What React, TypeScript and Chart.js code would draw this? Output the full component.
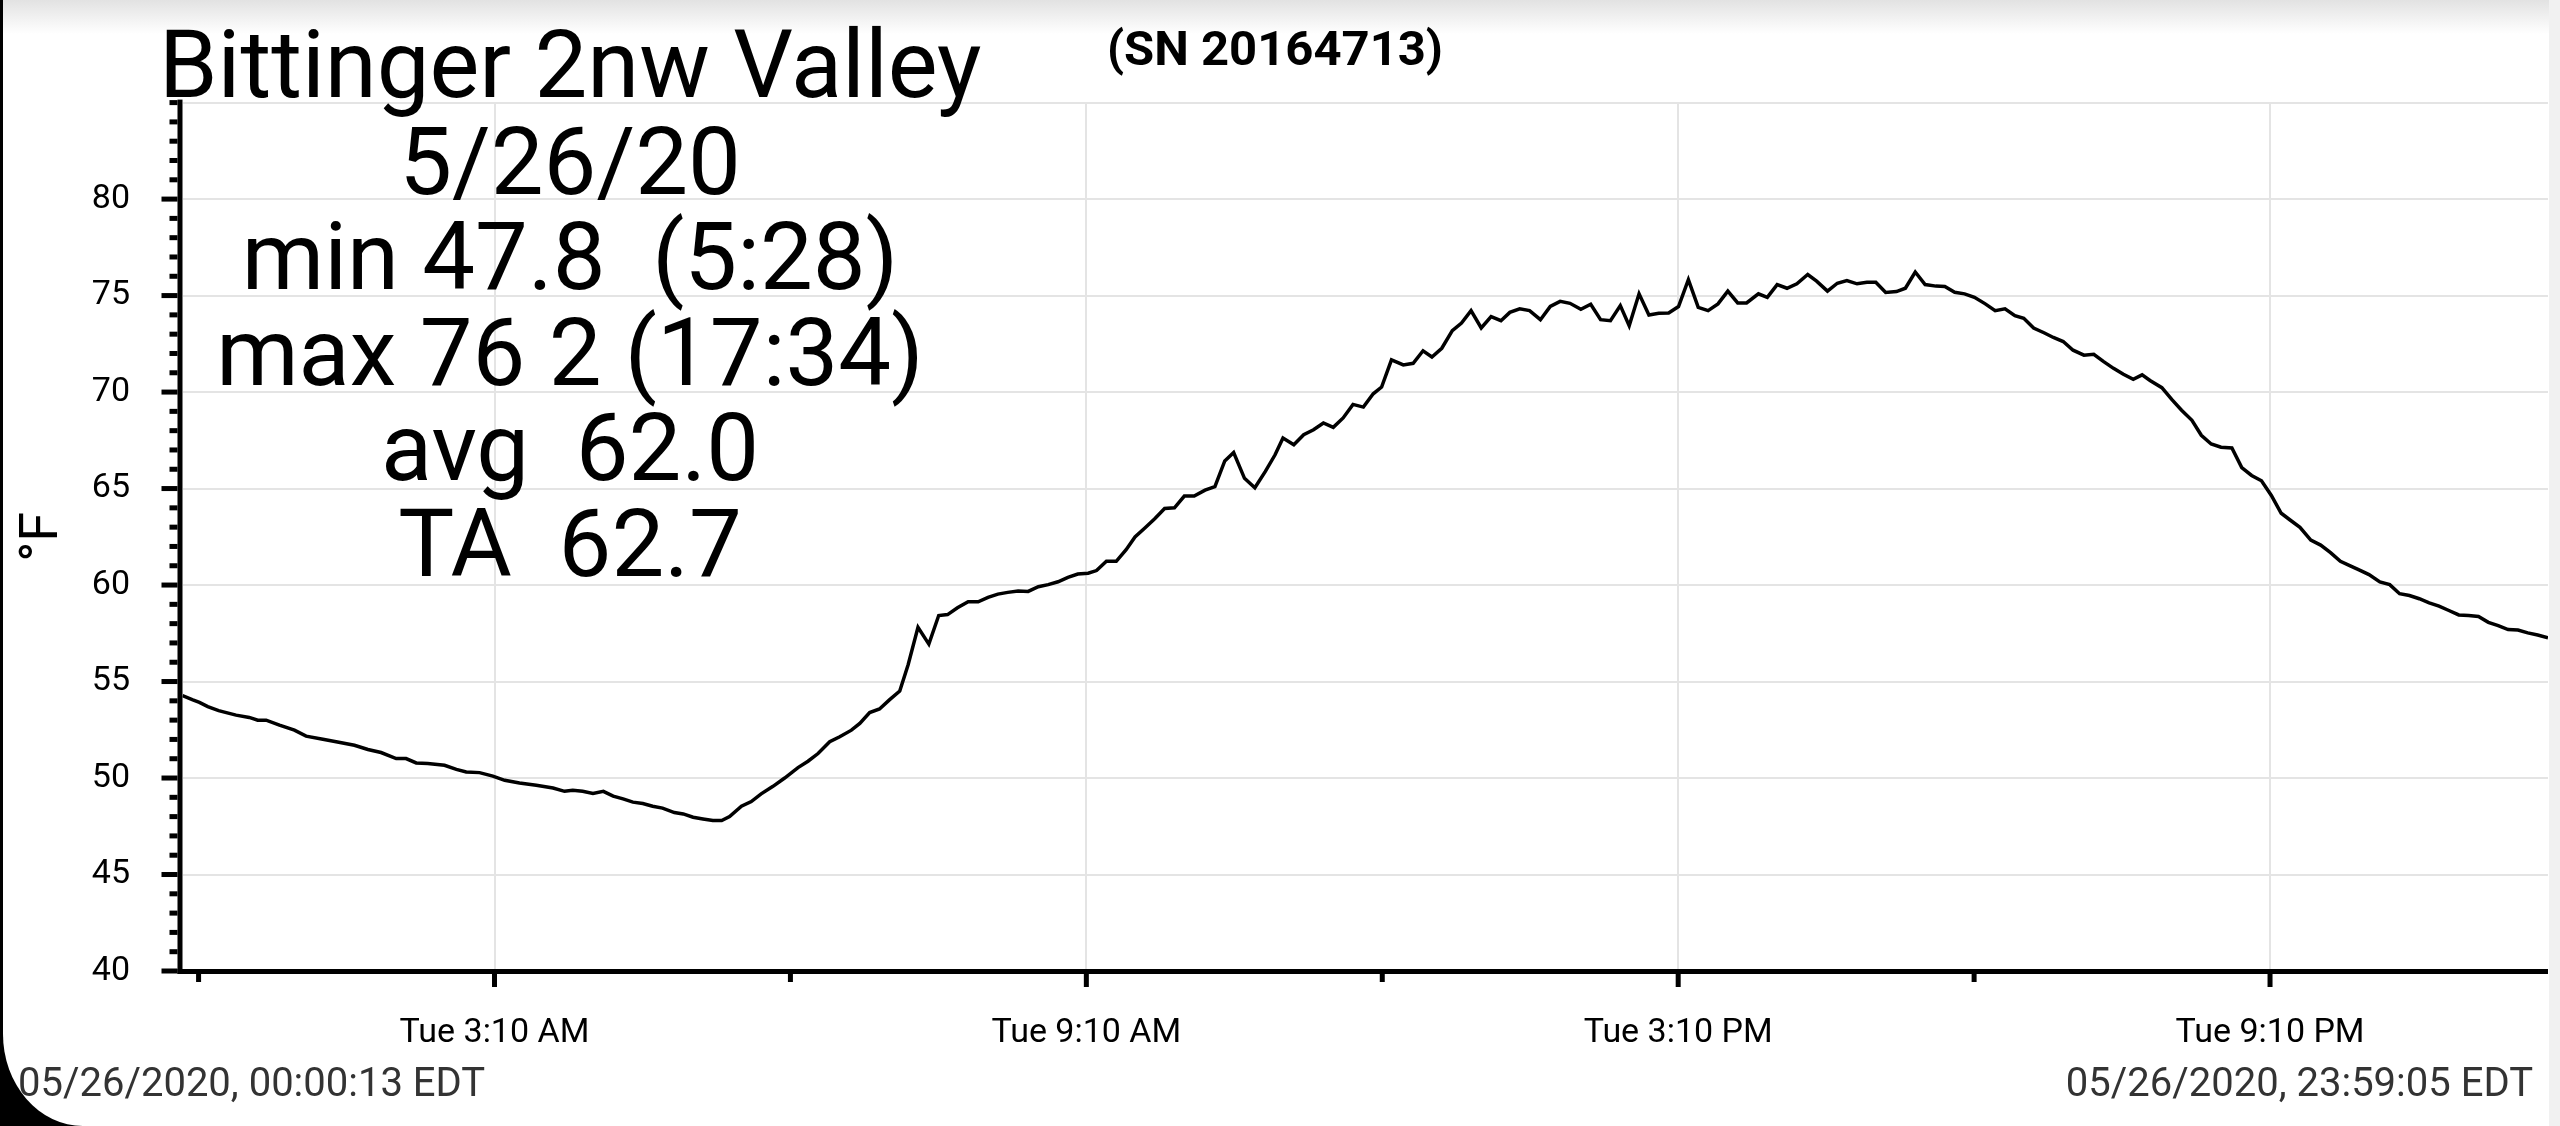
import React, { useEffect, useRef } from 'react';
import { Chart, registerables } from 'chart.js';

Chart.register(...registerables);

// ---- data (minutes after midnight, °F) ----
const timeMin = [
  0.22, 6.5, 10.5, 15.6, 22.2, 32.8, 40.8, 46.0, 51.1, 59.2, 68.3, 75.4, 85.6, 93.7, 104.8, 113.0, 121.0, 130.2, 136.2, 142.4,
  149.4, 159.6, 166.8, 172.8, 180.9, 189.0, 196.2, 205.2, 215.4, 225.6, 232.6,
  237.6, 243.6, 249.9, 256.2, 262.2, 268.2, 274.2, 280.2, 286.2, 292.2, 299.4, 304.8, 310.8, 316.8, 322.8, 328.2, 333.0, 340.2,
  346.2, 352.2, 359.4, 366.5, 374.6, 380.7, 386.8, 393.9, 400.0, 407.1, 412.2, 418.2, 424.2, 430.2, 436.5, 441.6, 447.6, 454.2,
  460.2, 465.6, 471.6,
  478.1, 484.2, 490.2, 496.2, 502.2, 508.5, 514.6, 520.8, 526.8, 532.8, 538.8, 544.8, 551.1, 556.2, 562.2, 568.2, 574.2, 579.6,
  585.6, 591.6, 597.6, 603.6, 609.6, 615.6, 622.2, 628.2, 634.2, 639.6, 646.2, 652.5, 658.8, 664.8, 669.6, 676.2, 682.2, 688.2,
  694.2, 700.2, 706.2, 712.2, 718.5,
  724.5, 729.6, 735.6, 742.8, 748.8, 754.8, 760.2, 766.2, 772.6, 778.2, 784.0, 790.2, 796.2, 802.2, 807.6, 813.6, 819.6, 826.2,
  832.2, 838.2, 844.2, 850.8, 856.8, 862.8, 868.8, 874.8, 880.2, 886.2, 892.2, 898.2, 904.2, 910.2, 916.2, 922.2, 928.2, 934.2,
  940.2, 946.2, 951.6, 958.8,
  964.2, 970.2, 976.2, 982.2, 988.8, 994.2, 1000.8, 1006.8, 1012.6, 1018.8, 1024.8, 1030.2, 1036.2, 1042.8, 1048.2, 1054.2,
  1060.2, 1066.8, 1072.2, 1078.2, 1084.2, 1090.2, 1096.8, 1102.8, 1108.8, 1114.8, 1120.2, 1126.2, 1132.8, 1138.2, 1144.2,
  1150.2, 1156.8, 1162.8, 1168.8, 1174.8, 1180.8, 1186.8, 1192.2, 1197.0,
  1204.2, 1210.2, 1216.2, 1222.5, 1228.2, 1234.2, 1240.2, 1246.8, 1252.8, 1258.8, 1264.8, 1270.8, 1276.8, 1282.2, 1288.2,
  1294.8, 1300.8, 1306.8, 1312.8, 1318.8, 1324.8, 1330.2, 1336.8, 1342.8, 1348.8, 1354.8, 1360.8, 1366.8, 1372.8, 1378.8,
  1384.8, 1390.8, 1396.8, 1402.8, 1408.8, 1414.8, 1420.8, 1426.8, 1432.8, 1439.08,
];

const tempF = [
  54.27, 54.05, 53.92, 53.7, 53.49, 53.26, 53.14, 53.0, 53.0, 52.74, 52.48, 52.17, 52.01, 51.88, 51.7, 51.48, 51.32, 51.01, 51.01, 50.78,
  50.75, 50.66, 50.45, 50.31, 50.28, 50.1, 49.88, 49.74, 49.62, 49.48, 49.31,
  49.36, 49.31, 49.2, 49.31, 49.06, 48.92, 48.75, 48.68, 48.54, 48.44, 48.21, 48.14, 47.97, 47.88, 47.8, 47.8, 48.0, 48.54,
  48.78, 49.18, 49.57, 50.0, 50.54, 50.87, 51.27, 51.88, 52.14, 52.48, 52.83, 53.39, 53.58, 54.05, 54.51, 55.87, 57.81, 56.94,
  58.42, 58.47, 58.82,
  59.13, 59.13, 59.36, 59.53, 59.62, 59.69, 59.67, 59.91, 60.02, 60.17, 60.4, 60.57, 60.61, 60.75, 61.23, 61.23, 61.83, 62.49,
  62.96, 63.44, 63.97, 64.0, 64.61, 64.61, 64.92, 65.1, 66.43, 66.87, 65.53, 65.04, 65.88, 66.75, 67.62, 67.27, 67.79, 68.05,
  68.4, 68.17, 68.66, 69.36, 69.22,
  69.91, 70.26, 71.67, 71.41, 71.49, 72.14, 71.82, 72.27, 73.18, 73.58, 74.22, 73.32, 73.91, 73.7, 74.13, 74.31, 74.22, 73.75,
  74.44, 74.7, 74.6, 74.29, 74.55, 73.75, 73.7, 74.48, 73.44, 75.09, 73.99, 74.08, 74.1, 74.43, 75.83, 74.39, 74.22, 74.57,
  75.23, 74.62, 74.62, 75.09,
  74.91, 75.57, 75.38, 75.61, 76.09, 75.75, 75.23, 75.64, 75.78, 75.61, 75.69, 75.69, 75.16, 75.21, 75.38, 76.22,
  75.57, 75.49, 75.47, 75.17, 75.09, 74.91, 74.57, 74.22, 74.31, 73.96, 73.82, 73.32, 73.06, 72.83, 72.62,
  72.17, 71.91, 71.96, 71.58, 71.23, 70.92, 70.66, 70.89, 70.6,
  70.23, 69.62, 69.06, 68.54, 67.76, 67.31, 67.14, 67.1, 66.09, 65.68, 65.4, 64.64, 63.72, 63.37, 62.99,
  62.33, 62.07, 61.68, 61.23, 60.99, 60.76, 60.54, 60.16, 60.02, 59.55, 59.46, 59.29, 59.08, 58.91, 58.68,
  58.45, 58.42, 58.37, 58.07, 57.9, 57.69, 57.67, 57.52, 57.41, 57.27,
];

// ---- ticks ----
const xTickMinutes = [10, 190, 370, 550, 730, 910, 1090, 1270];
const xTickLabels = ['', 'Tue 3:10 AM', '', 'Tue 9:10 AM', '', 'Tue 3:10 PM', '', 'Tue 9:10 PM'];
const yLabelValues = [40, 45, 50, 55, 60, 65, 70, 75, 80];
const Y_MIN = 40;
const Y_MAX = 85;
const Y_MINOR_STEP = 1;

// ---- texts ----
const titleText = 'Bittinger 2nw Valley';
const serialText = '(SN 20164713)';
const statsLines = ['5/26/20', 'min 47.8  (5:28)', 'max 76 2 (17:34)', 'avg  62.0', 'TA  62.7'];
const statsBaselines = [194, 289, 385, 480, 576];
const yAxisTitle = '°F';
const startStamp = '05/26/2020, 00:00:13 EDT';
const endStamp = '05/26/2020, 23:59:05 EDT';

const GRID = '#e4e4e4';
const AXIS_W = 5;

const axisPlugin = {
  id: 'axisDecor',
  afterDraw(chart: any) {
    const { ctx, chartArea } = chart;
    const { left, right, top, bottom } = chartArea;
    const xs = chart.scales.x;
    const ys = chart.scales.y;
    ctx.save();
    ctx.fillStyle = '#000';
    // axis lines
    ctx.fillRect(left - AXIS_W, top - 3, AXIS_W, bottom - top + 6);
    ctx.fillRect(left - AXIS_W, bottom - 2, right - left + AXIS_W, AXIS_W);
    // y ticks
    ys.ticks.forEach((t: any) => {
      const py = ys.getPixelForValue(t.value);
      const major = yLabelValues.includes(t.value);
      const len = major ? 16 : 8;
      ctx.fillRect(left - AXIS_W - len, py - 2.5, len, 5);
    });
    // x ticks
    xs.ticks.forEach((t: any) => {
      const px = xs.getPixelForValue(t.value);
      const i = xTickMinutes.indexOf(t.value);
      const major = i >= 0 && xTickLabels[i] !== '';
      const len = major ? 13 : 8;
      ctx.fillRect(px - 2.5, bottom + 3, 5, len);
    });
    ctx.restore();
  },
};

function lineTop(baseline: number, size: number) {
  return baseline - 0.842 * size;
}

export default function App() {
  const ref = useRef<HTMLCanvasElement>(null);

  useEffect(() => {
    const canvas = ref.current;
    if (!canvas) return;
    const chart = new Chart(canvas, {
      type: 'line',
      data: {
        datasets: [
          {
            data: timeMin.map((x, i) => ({ x, y: tempF[i] })),
            borderColor: '#000',
            borderWidth: 3.5,
            pointRadius: 0,
            tension: 0,
            fill: false,
          },
        ],
      },
      options: {
        animation: false,
        responsive: false,
        devicePixelRatio: 1,
        events: [],
        layout: { padding: { left: 0, top: 102.6, right: 12, bottom: 0 } },
        plugins: {
          legend: { display: false },
          tooltip: { enabled: false },
          title: { display: false },
        },
        scales: {
          x: {
            type: 'linear',
            min: timeMin[0],
            max: timeMin[timeMin.length - 1],
            afterBuildTicks: (s: any) => {
              s.ticks = xTickMinutes.map((v) => ({ value: v }));
            },
            afterFit: (s: any) => {
              s.height = 155;
            },
            border: { display: false },
            grid: {
              drawTicks: false,
              lineWidth: 2,
              color: (c: any) => {
                const i = c.tick ? xTickMinutes.indexOf(c.tick.value) : -1;
                return i >= 0 && xTickLabels[i] !== '' ? GRID : 'rgba(0,0,0,0)';
              },
            },
            ticks: {
              autoSkip: false,
              maxRotation: 0,
              padding: 42,
              color: '#000',
              font: { family: 'Roboto', size: 34 },
              callback: (v: any) => {
                const i = xTickMinutes.indexOf(Number(v));
                return i >= 0 ? xTickLabels[i] : '';
              },
            },
          },
          y: {
            type: 'linear',
            min: Y_MIN,
            max: Y_MAX,
            afterBuildTicks: (s: any) => {
              const t: { value: number }[] = [];
              for (let v = Y_MIN; v <= Y_MAX; v += Y_MINOR_STEP) t.push({ value: v });
              s.ticks = t;
            },
            afterFit: (s: any) => {
              s.width = 182.5;
            },
            border: { display: false },
            grid: {
              drawTicks: false,
              lineWidth: 2,
              color: (c: any) => (c.tick && c.tick.value % 5 === 0 ? GRID : 'rgba(0,0,0,0)'),
            },
            ticks: {
              autoSkip: false,
              padding: 52.5,
              color: '#000',
              font: { family: 'Roboto', size: 34 },
              callback: (v: any) => (yLabelValues.includes(Number(v)) ? String(v) : ''),
            },
            title: {
              display: true,
              text: yAxisTitle,
              color: '#000',
              font: { family: 'Roboto', size: 54 },
              padding: { top: 11, bottom: 0 },
            },
          },
        },
      } as any,
      plugins: [axisPlugin],
    });
    let alive = true;
    if ((document as any).fonts && (document as any).fonts.ready) {
      (document as any).fonts.ready.then(() => {
        if (alive) chart.update();
      });
    }
    return () => {
      alive = false;
      chart.destroy();
    };
  }, []);

  const abs: React.CSSProperties = { position: 'absolute', whiteSpace: 'pre', margin: 0 };

  return (
    <div
      style={{
        position: 'fixed',
        left: 0,
        top: 0,
        width: 2560,
        height: 1126,
        overflow: 'hidden',
        background: '#000',
        fontFamily: 'Roboto, sans-serif',
      }}
    >
      <div
        style={{
          position: 'absolute',
          left: 3,
          top: 0,
          right: 0,
          bottom: 0,
          background: '#fff',
          borderBottomLeftRadius: '80px 92px',
        }}
      />
      <div
        style={{
          position: 'absolute',
          left: 3,
          top: 0,
          right: 0,
          height: 34,
          background: 'linear-gradient(#e2e2e2, #ffffff)',
        }}
      />
      <div style={{ position: 'absolute', right: 0, top: 0, bottom: 0, width: 11, background: '#f1f1f1' }} />
      <canvas
        ref={ref}
        width={2560}
        height={1126}
        style={{ position: 'absolute', left: 0, top: 0, width: 2560, height: 1126, display: 'block' }}
      />
      <div
        style={{
          ...abs,
          left: 159,
          top: lineTop(97, 94),
          fontSize: 94,
          lineHeight: '94px',
          color: '#000',
        }}
      >
        {titleText}
      </div>
      <div
        style={{
          ...abs,
          left: 1075,
          width: 400,
          textAlign: 'center',
          top: lineTop(65, 49),
          fontSize: 49,
          lineHeight: '49px',
          fontWeight: 700,
          color: '#000',
        }}
      >
        {serialText}
      </div>
      {statsLines.map((s, i) => (
        <div
          key={i}
          style={{
            ...abs,
            left: 170,
            width: 800,
            textAlign: 'center',
            top: lineTop(statsBaselines[i], 94),
            fontSize: 94,
            lineHeight: '94px',
            color: '#000',
          }}
        >
          {s}
        </div>
      ))}
      <div
        style={{
          ...abs,
          left: 18,
          top: lineTop(1097, 40),
          fontSize: 40,
          lineHeight: '40px',
          color: '#333',
        }}
      >
        {startStamp}
      </div>
      <div
        style={{
          ...abs,
          right: 27,
          top: lineTop(1097, 40),
          fontSize: 40,
          lineHeight: '40px',
          color: '#333',
          textAlign: 'right',
        }}
      >
        {endStamp}
      </div>
    </div>
  );
}
